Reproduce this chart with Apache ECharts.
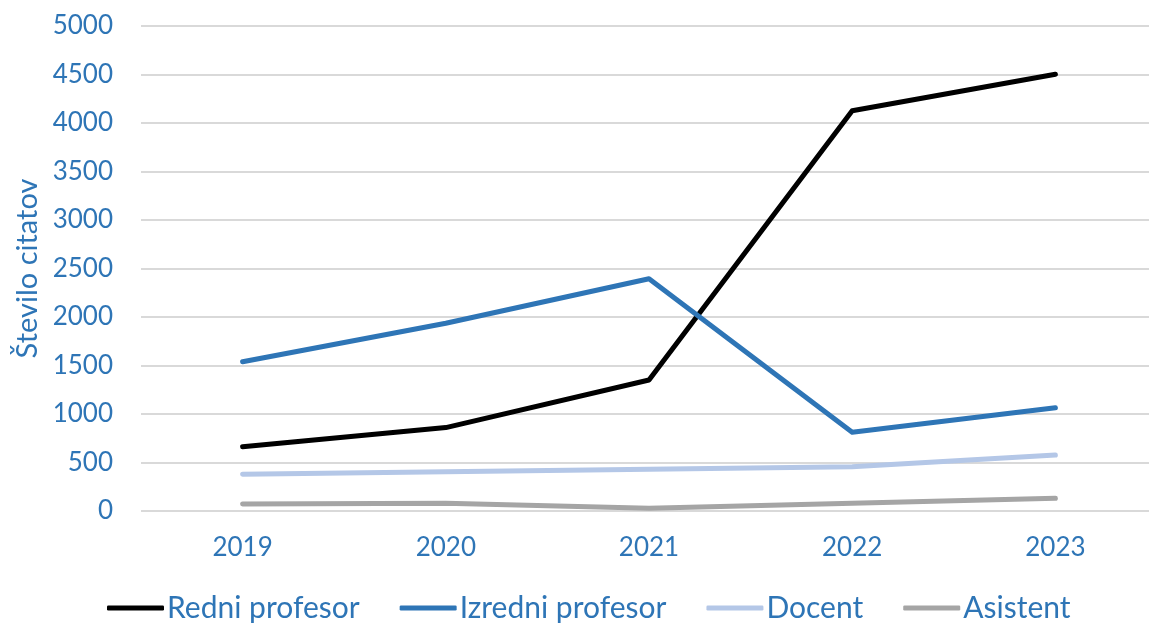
<!DOCTYPE html>
<html>
<head>
<meta charset="utf-8">
<script src="https://cdn.jsdelivr.net/npm/echarts@6/dist/echarts.min.js"></script>
<style>
  * { margin: 0; padding: 0; }
  html, body { width: 1149px; height: 626px; background: #fff; overflow: hidden; }
</style>
</head>
<body>
<!-- prostor za graf -->
<div id="main" style="width: 1149px; height: 626px;"></div>
<script>
  var leta = ['2019', '2020', '2021', '2022', '2023'];
  var redniProfesor = [663, 860, 1350, 4127, 4502];
  var izredniProfesor = [1539, 1935, 2395, 811, 1065];
  var docent = [378, 405, 430, 457, 577];
  var asistent = [72, 79, 28, 79, 131];

  var modra = '#2E75B6';
  var pisava = 'Lato';

  function linija(ime, podatki, barva) {
    return {
      name: ime,
      type: 'line',
      data: podatki,
      symbol: 'none',
      smooth: false,
      lineStyle: { color: barva, width: 5, cap: 'round', join: 'round' },
      itemStyle: { color: barva }
    };
  }

  var chart = echarts.init(document.getElementById('main'));
  chart.setOption({
    animation: false,
    backgroundColor: '#fff',
    grid: { left: 141, width: 1016, top: 26, height: 485, outerBoundsMode: 'none', containLabel: false },
    legend: {
      bottom: -2,
      left: 102,
      icon: 'roundRect',
      itemWidth: 57,
      itemHeight: 5,
      itemGap: 40,
      textStyle: { color: modra, fontSize: 30, fontFamily: pisava, padding: [0, 0, 0, -2] },
      data: ['Redni profesor', 'Izredni profesor', 'Docent', 'Asistent']
    },
    xAxis: {
      type: 'category',
      data: leta,
      boundaryGap: true,
      axisLine: { show: false },
      axisTick: { show: false },
      axisLabel: { color: modra, fontSize: 26, fontFamily: pisava, margin: 24 }
    },
    yAxis: {
      type: 'value',
      min: 0,
      max: 5000,
      interval: 500,
      name: 'Število citatov',
      nameLocation: 'middle',
      nameGap: 92,
      nameTextStyle: { color: modra, fontSize: 29, fontFamily: pisava },
      axisLine: { show: false },
      axisTick: { show: false },
      axisLabel: {
        color: modra, fontSize: 26, fontFamily: pisava, margin: 28,
        formatter: function (v) { return String(v); }
      },
      splitLine: { lineStyle: { color: '#d9d9d9', width: 2 } }
    },
    series: [
      linija('Redni profesor', redniProfesor, '#000000'),
      linija('Izredni profesor', izredniProfesor, modra),
      linija('Docent', docent, '#B4C7E7'),
      linija('Asistent', asistent, '#A5A5A5')
    ]
  });
</script>
</body>
</html>
